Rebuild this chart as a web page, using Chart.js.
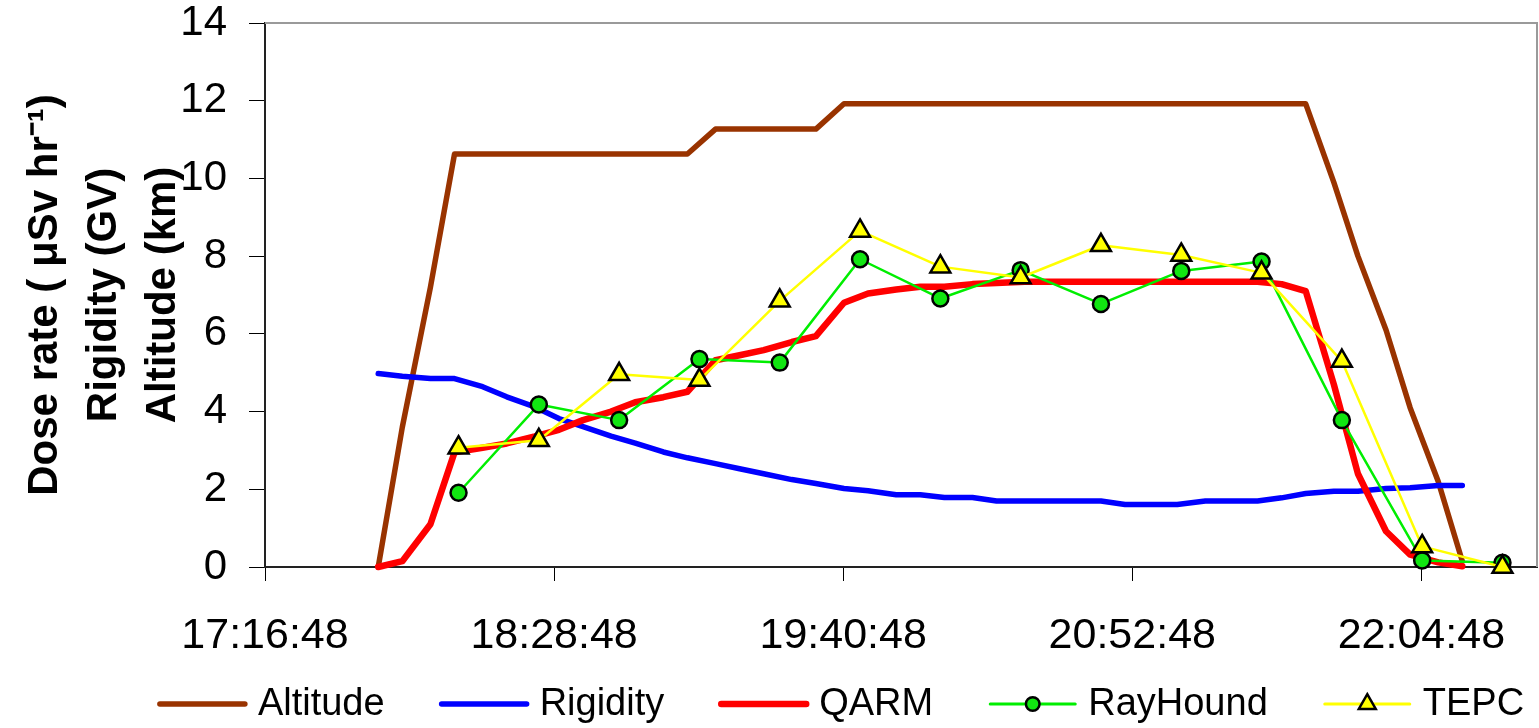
<!DOCTYPE html>
<html>
<head>
<meta charset="utf-8">
<title>Dose rate, rigidity and altitude</title>
<script src="https://cdn.jsdelivr.net/npm/chart.js@4.4.1/dist/chart.umd.min.js"></script>
<style>
  html, body { margin: 0; padding: 0; background: #fff; }
  #wrap { width: 1539px; height: 728px; }
</style>
</head>
<body>
<div id="wrap"><canvas id="doseChart" width="1539" height="728"></canvas></div>
<script>
// x axis: clock time, ticks every 72 minutes
const xTickLabels = ["17:16:48", "18:28:48", "19:40:48", "20:52:48", "22:04:48"];
const axisStart = "17:16:48";
const axisEnd = "22:33:36";

// flight track (altitude km, cutoff rigidity GV, QARM model dose rate)
const flightTimes = [
  "17:45", "17:51", "17:58", "18:04", "18:11", "18:17", "18:24", "18:30", "18:36",
  "18:43", "18:49", "18:56", "19:02", "19:09", "19:15", "19:21", "19:28", "19:34",
  "19:41", "19:47", "19:54", "20:00", "20:06", "20:13", "20:19", "20:26", "20:32",
  "20:39", "20:45", "20:51", "20:58", "21:04", "21:11", "21:17", "21:24", "21:30",
  "21:36", "21:43", "21:49", "21:56", "22:02", "22:09", "22:15"
];
const altitude = [
  0, 3.6, 7.2, 10.63, 10.63, 10.63, 10.63, 10.63, 10.63, 10.63, 10.63, 10.63, 10.63,
  11.27, 11.27, 11.27, 11.27, 11.27,
  11.92, 11.92, 11.92, 11.92, 11.92, 11.92, 11.92, 11.92, 11.92, 11.92, 11.92, 11.92,
  11.92, 11.92, 11.92, 11.92, 11.92, 11.92, 11.92,
  9.9, 8.0, 6.1, 4.1, 2.2, 0.15
];
const rigidity = [
  4.98, 4.91, 4.85, 4.85, 4.64, 4.38, 4.12, 3.82, 3.61, 3.37, 3.19, 2.96, 2.81,
  2.66, 2.53, 2.40, 2.25, 2.15, 2.02, 1.96, 1.86, 1.86, 1.79, 1.79, 1.70, 1.70,
  1.70, 1.70, 1.70, 1.61, 1.61, 1.61, 1.70, 1.70, 1.70, 1.78, 1.89, 1.95, 1.95,
  2.02, 2.04, 2.10, 2.10
];
const qarm = [
  0, 0.15, 1.10, 2.95, 3.07, 3.18, 3.36, 3.53, 3.78, 4.00, 4.24, 4.37, 4.51,
  5.32, 5.45, 5.58, 5.79, 5.94, 6.80, 7.04, 7.14, 7.21, 7.21, 7.28, 7.31,
  7.34, 7.34, 7.34, 7.34, 7.34, 7.34, 7.34, 7.34, 7.34, 7.34,
  7.28, 7.10, 4.70, 2.40, 0.92, 0.32, 0.12, 0.02
];

// measured dose rates (uSv/hr), one reading every ~20 minutes
const sampleTimes = [
  "18:05", "18:25", "18:45", "19:05", "19:25", "19:45", "20:05",
  "20:25", "20:45", "21:05", "21:25", "21:45", "22:05", "22:25"
];
const rayHound = [1.91, 4.18, 3.78, 5.35, 5.26, 7.92, 6.91, 7.64, 6.77, 7.62, 7.86, 3.78, 0.17, 0.11];
const tepc = [3.07, 3.26, 4.96, 4.81, 6.85, 8.65, 7.73, 7.45, 8.28, 8.03, 7.57, 5.30, 0.53, 0.0];

const toMinutes = (s) => {
  const p = s.split(":").map(Number);
  return p[0] * 60 + p[1] + (p[2] || 0) / 60;
};
const toOffset = (s) => toMinutes(s) - toMinutes(axisStart);
const pairs = (times, values) => times.map((t, i) => ({ x: toOffset(t), y: values[i] }));

const FONT = "'Liberation Sans', Arial, Helvetica, sans-serif";
Chart.defaults.font.family = FONT;
Chart.defaults.color = "#000";

// top and right edges of the plot area, drawn grey like the original
const plotFrame = {
  id: "plotFrame",
  beforeDatasetsDraw(chart) {
    const { ctx, chartArea: a } = chart;
    ctx.save();
    ctx.strokeStyle = "#9a9a9a";
    ctx.lineWidth = 2;
    ctx.beginPath();
    ctx.moveTo(a.left, a.top);
    ctx.lineTo(a.right, a.top);
    ctx.lineTo(a.right, a.bottom);
    ctx.stroke();
    ctx.restore();
  }
};

// legend row under the axis: line sample with marker, then label
const legendRow = {
  id: "legendRow",
  afterDraw(chart) {
    const ctx = chart.ctx;
    const y = 704, lineLen = 85, textGap = 13, itemGap = 57, centre = 842;
    const sets = chart.data.datasets;
    ctx.save();
    ctx.font = "38px " + FONT;
    const widths = sets.map(d => lineLen + textGap + ctx.measureText(d.label).width);
    const total = widths.reduce((a, b) => a + b, 0) + itemGap * (sets.length - 1);
    let x = centre - total / 2;
    sets.forEach((d, i) => {
      ctx.strokeStyle = d.borderColor;
      ctx.lineWidth = d.legendWidth || d.borderWidth;
      ctx.lineCap = "round";
      ctx.beginPath();
      ctx.moveTo(x, y);
      ctx.lineTo(x + lineLen, y);
      ctx.stroke();
      if (d.pointRadius > 0) {
        ctx.fillStyle = d.pointBackgroundColor;
        ctx.strokeStyle = d.pointBorderColor;
        ctx.lineWidth = d.pointBorderWidth;
        Chart.helpers.drawPoint(ctx, {
          pointStyle: d.pointStyle, radius: d.pointRadius * 0.85,
          borderWidth: d.pointBorderWidth, rotation: 0
        }, x + lineLen / 2, y);
      }
      ctx.fillStyle = "#000";
      ctx.textAlign = "left";
      ctx.textBaseline = "middle";
      ctx.fillText(d.label, x + lineLen + textGap, y + 1);
      x += widths[i] + itemGap;
    });
    ctx.restore();
  }
};

new Chart(document.getElementById("doseChart"), {
  type: "line",
  data: {
    datasets: [
      {
        label: "Altitude",
        data: pairs(flightTimes, altitude),
        borderColor: "#993300",
        borderWidth: 5.5,
        pointRadius: 0,
        order: 5
      },
      {
        label: "Rigidity",
        data: pairs(flightTimes, rigidity),
        borderColor: "#0000ff",
        borderWidth: 5.5,
        pointRadius: 0,
        order: 4
      },
      {
        label: "QARM",
        data: pairs(flightTimes, qarm),
        borderColor: "#ff0000",
        borderWidth: 6.5,
        pointRadius: 0,
        order: 3
      },
      {
        label: "RayHound",
        data: pairs(sampleTimes, rayHound),
        borderColor: "#00ee00",
        borderWidth: 2.5,
        legendWidth: 3,
        pointStyle: "circle",
        pointRadius: 8,
        pointBackgroundColor: "#11e611",
        pointBorderColor: "#000",
        pointBorderWidth: 2.5,
        order: 2
      },
      {
        label: "TEPC",
        data: pairs(sampleTimes, tepc),
        borderColor: "#ffff00",
        borderWidth: 2.5,
        legendWidth: 3,
        pointStyle: "triangle",
        pointRadius: 11.5,
        pointBackgroundColor: "#ffff00",
        pointBorderColor: "#000",
        pointBorderWidth: 2.5,
        order: 1
      }
    ]
  },
  options: {
    responsive: false,
    animation: false,
    devicePixelRatio: 1,
    events: [],
    clip: false,
    elements: {
      line: { tension: 0, borderJoinStyle: "round", borderCapStyle: "round" }
    },
    layout: { autoPadding: false, padding: { top: 23, right: 2, left: 0, bottom: 0 } },
    plugins: {
      legend: { display: false },
      tooltip: { enabled: false },
      title: { display: false }
    },
    scales: {
      x: {
        type: "linear",
        min: 0,
        max: toOffset(axisEnd),
        afterBuildTicks: (s) => { s.ticks = xTickLabels.map(t => ({ value: toOffset(t) })); },
        afterFit: (s) => { s.height = 161; s.paddingLeft = 0; s.paddingRight = 0; },
        ticks: {
          autoSkip: false,
          maxRotation: 0,
          padding: 29,
          font: { size: 43, lineHeight: 1.2 },
          callback: (v, i) => xTickLabels[i]
        },
        grid: { drawOnChartArea: false, drawTicks: true, tickLength: 14, color: "#000", lineWidth: 1 },
        border: { display: true, color: "#222", width: 2 }
      },
      y: {
        min: 0,
        max: 14,
        afterFit: (s) => { s.width = 265; s.paddingTop = 0; s.paddingBottom = 0; },
        ticks: { stepSize: 2, padding: 22, font: { size: 42, lineHeight: 1 } },
        grid: { drawOnChartArea: false, drawTicks: true, tickLength: 16, color: "#000", lineWidth: 1 },
        border: { display: true, color: "#222", width: 2 },
        title: {
          display: true,
          text: ["Dose rate ( \u03bcSv hr\u207b\u00b9)", "Rigidity (GV)", "Altitude (km)"],
          font: { size: 42, weight: "bold", lineHeight: 1.4 },
          padding: { top: 16, bottom: 0 }
        }
      }
    }
  },
  plugins: [plotFrame, legendRow]
});
</script>
</body>
</html>
